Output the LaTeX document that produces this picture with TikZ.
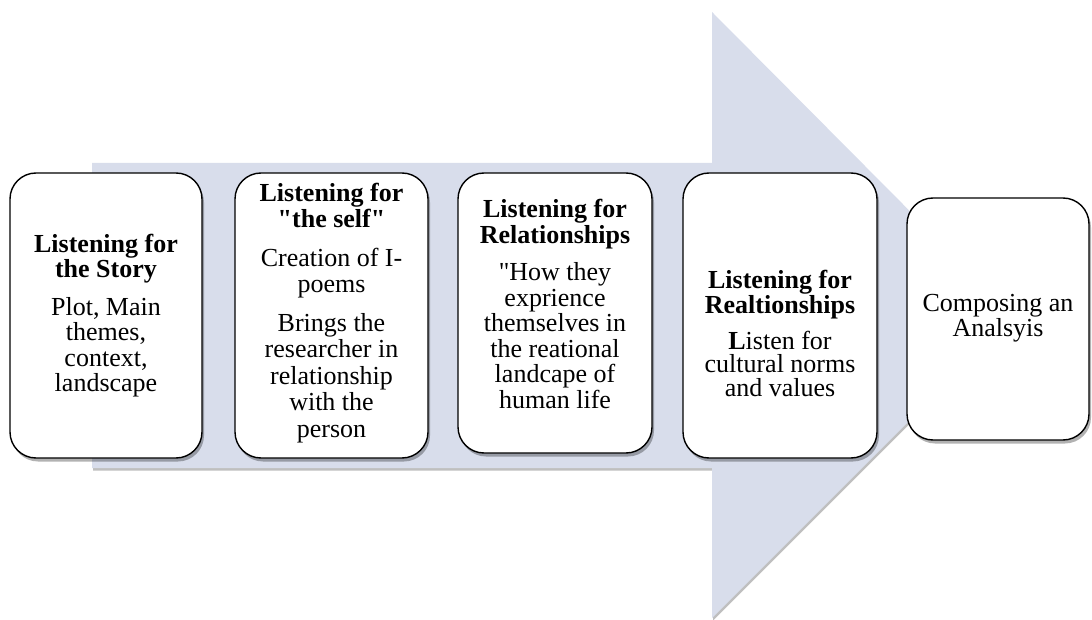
\documentclass[tikz,border=0pt]{standalone}
\usepackage{fontspec}
\setmainfont{Liberation Serif}[Ligatures=TeXOff]
\usetikzlibrary{shadows}
\definecolor{arrowfill}{RGB}{216,221,235}
\tikzset{
  bigarrow/.style={fill=arrowfill, draw=none,
    drop shadow={shadow xshift=1pt, shadow yshift=-2.5pt, opacity=0.25, fill=black}},
  stagebox/.style={draw=black, line width=1.4pt, fill=white, rounded corners=26pt,
    drop shadow={shadow xshift=2pt, shadow yshift=-3.5pt, opacity=0.3, fill=black}},
  stagetext/.style={inner sep=0pt, align=center, font=\fontsize{26}{25.5}\selectfont},
}
\newcommand{\ttl}[1]{\textbf{#1}}
\begin{document}
\begin{tikzpicture}[x=1pt,y=-1pt]
\useasboundingbox (0,0) rectangle (1092,620);
% the big arrow
\path[bigarrow] (92,163) -- (712,163) -- (712,12) -- (1014,316) -- (712,618) -- (712,468) -- (92,468) -- cycle;
% boxes
\node[stagebox, minimum width=192pt, minimum height=285pt] (b1) at (106,315.5) {};
\node[stagebox, minimum width=193pt, minimum height=285pt] (b2) at (331.5,315.5) {};
\node[stagebox, minimum width=194pt, minimum height=280pt] (b3) at (555,313) {};
\node[stagebox, minimum width=194pt, minimum height=285pt] (b4) at (780,315.5) {};
\node[stagebox, minimum width=182pt, minimum height=242pt] (b5) at (998,319) {};
% texts
\node[stagetext] (t1) at (b1.center) {\ttl{Listening for}\\\ttl{the Story}\\[12pt]Plot, Main\\themes,\\context,\\landscape};
\node[stagetext, font=\fontsize{26}{26.5}\selectfont] (t2) at (331.5,313) {\ttl{Listening for}\\\ttl{"the self"}\\[12pt]Creation of I-\\poems\\[12pt]Brings the\\researcher in\\relationship\\with the\\person};
\node[stagetext] (t3) at (555,304) {\ttl{Listening for}\\\ttl{Relationships}\\[12pt]"How they\\exprience\\themselves in\\the reational\\landcape of\\human life};
\node[stagetext] (t4) at (780,333) {\ttl{Listening for}\\\ttl{Realtionships}\\[10pt]\ttl{L}isten for\\[-2pt]cultural norms\\[-2pt]and values};
\node[stagetext] (t5) at (998,318) {Composing an\\Analsyis};
\end{tikzpicture}
\end{document}
